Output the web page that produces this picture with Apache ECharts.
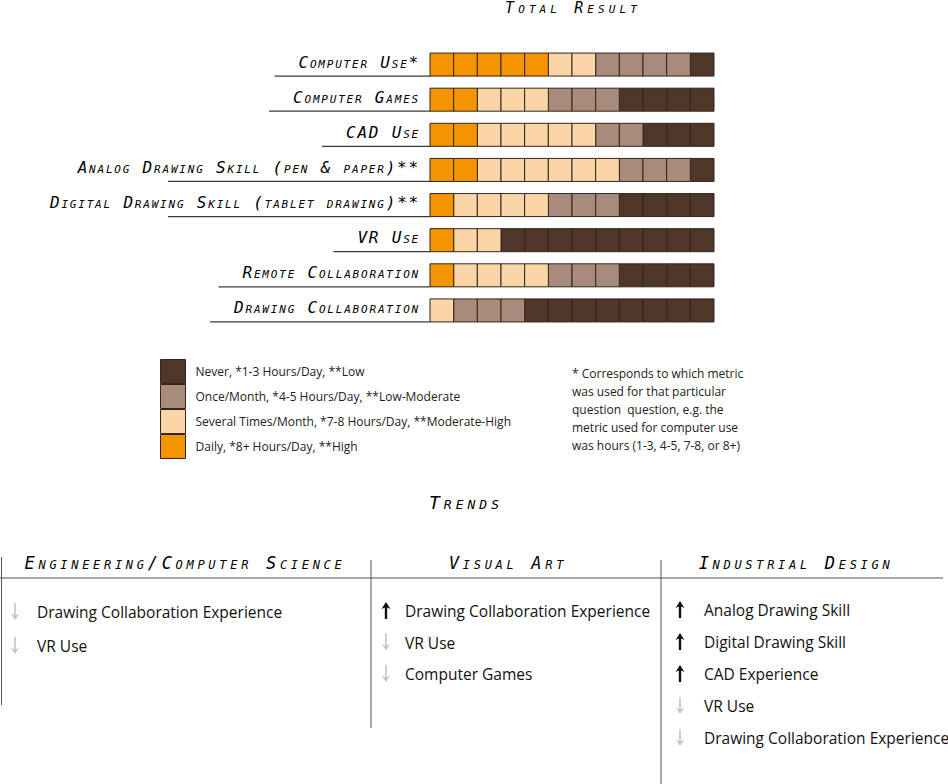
<!DOCTYPE html>
<html>
<head>
<meta charset="utf-8">
<script src="https://cdn.jsdelivr.net/npm/echarts@6/dist/echarts.min.js"></script>
<style>
html,body{margin:0;padding:0;background:#fff;}
#chart{width:948px;height:784px;}
text[style*="DejaVu Sans Mono"]{font-variant:small-caps !important;}
text[style*="15px"][style*="DejaVu Sans Mono"]{letter-spacing:4.1px;}
text[style*="16px"][style*="DejaVu Sans Mono"]{letter-spacing:1.8px;}
text[style*="17px"][style*="DejaVu Sans Mono"]{letter-spacing:3.7px;}
text[style*="18px"][style*="DejaVu Sans Mono"]{letter-spacing:4px;}
</style>
</head>
<body>
<div id="chart"></div>
<script>
// ---------- data ----------
const questions = [
  'Computer Use*',
  'Computer Games',
  'CAD Use',
  'Analog Drawing Skill (pen & paper)**',
  'Digital Drawing Skill (tablet drawing)**',
  'VR Use',
  'Remote Collaboration',
  'Drawing Collaboration'
];
const columns = ['1','2','3','4','5','6','7','8','9','10','11','12'];
const levelNames = [
  'Never, *1-3 Hours/Day, **Low',
  'Once/Month, *4-5 Hours/Day, **Low-Moderate',
  'Several Times/Month, *7-8 Hours/Day, **Moderate-High',
  'Daily, *8+ Hours/Day, **High'
];
// number of cells per row for each level
const dailyCounts   = [5, 2, 2, 2, 1, 1, 1, 0];
const severalCounts = [2, 3, 5, 6, 4, 2, 4, 1];
const onceCounts    = [4, 3, 2, 3, 3, 0, 3, 3];
const neverCounts   = [1, 4, 3, 1, 4, 9, 4, 8];
const noteLines = [
  '* Corresponds to which metric',
  'was used for that particular',
  'question  question, e.g. the',
  'metric used for computer use',
  'was hours (1-3, 4-5, 7-8, or 8+)'
];
const trendHeaders = ['Engineering/Computer Science', 'Visual Art', 'Industrial Design'];
const trendEng = [['down', 'Drawing Collaboration Experience'], ['down', 'VR Use']];
const trendArt = [['up', 'Drawing Collaboration Experience'], ['down', 'VR Use'], ['down', 'Computer Games']];
const trendInd = [['up', 'Analog Drawing Skill'], ['up', 'Digital Drawing Skill'], ['up', 'CAD Experience'], ['down', 'VR Use'], ['down', 'Drawing Collaboration Experience']];

// ---------- build cells ----------
const colors = ['#4E3628', '#A88B7B', '#FAD5A7', '#F39400'];
const orderCounts = [dailyCounts, severalCounts, onceCounts, neverCounts]; // left -> right
const orderLevel = [3, 2, 1, 0];
const cellData = [[], [], [], []];
questions.forEach((q, r) => {
  let col = 0;
  orderCounts.forEach((arr, k) => {
    for (let i = 0; i < arr[r]; i++) {
      cellData[orderLevel[k]].push([col, r]);
      col++;
    }
  });
});

const LABEL_FONT = 'DejaVu Sans Mono';
const SANS = 'Open Sans';
const labelMargin = 10;
const mctx = document.createElement('canvas').getContext('2d');
function measureLabel(t) {
  mctx.font = 'italic 16px "DejaVu Sans Mono"';
  try { mctx.fontVariantCaps = 'small-caps'; mctx.letterSpacing = '1.8px'; } catch (e) {}
  return mctx.measureText(t).width;
}
const labelWidths = questions.map(measureLabel);

const cellRatio = 0.655;
function renderCell(params, api) {
  const c = api.coord([api.value(0), api.value(1)]);
  const s = api.size([1, 1]);
  const h = s[1] * cellRatio;
  return {
    type: 'rect',
    shape: { x: c[0] - s[0] / 2, y: c[1] - h / 2, width: s[0], height: h },
    style: api.style()
  };
}
function renderUnderline(params, api) {
  const r = api.value(1);
  const c = api.coord([0, r]);
  const s = api.size([1, 1]);
  const xEnd = c[0] - s[0] / 2;
  const yB = c[1] + s[1] * cellRatio / 2;
  const textStart = xEnd - labelMargin - labelWidths[r];
  const xStart = Math.max(textStart - 24, 168);
  return {
    type: 'line',
    shape: { x1: xStart, y1: yB, x2: xEnd, y2: yB },
    style: { stroke: '#3a3a3a', lineWidth: 1.2 }
  };
}

const series = levelNames.map((name, i) => ({
  type: 'custom',
  name: name,
  renderItem: renderCell,
  data: cellData[i],
  itemStyle: { color: colors[i], borderColor: '#33251c', borderWidth: 1 },
  silent: true
}));
series.push({
  type: 'custom',
  name: 'underline',
  renderItem: renderUnderline,
  data: questions.map((q, r) => [0, r]),
  silent: true,
  z: 1
});

// ---------- trends graphics ----------
const graphics = [];
const lineStyle = { stroke: '#555', lineWidth: 1 };
graphics.push({ type: 'line', shape: { x1: 0, y1: 578, x2: 943, y2: 578 }, style: lineStyle });
graphics.push({ type: 'line', shape: { x1: 1.5, y1: 557, x2: 1.5, y2: 705 }, style: lineStyle });
graphics.push({ type: 'line', shape: { x1: 371, y1: 560, x2: 371, y2: 728 }, style: lineStyle });
graphics.push({ type: 'line', shape: { x1: 661, y1: 560, x2: 661, y2: 784 }, style: lineStyle });
const headerX = [185, 508, 796];
trendHeaders.forEach((t, i) => {
  graphics.push({
    type: 'text', x: headerX[i], y: 563,
    style: { text: t, fontFamily: LABEL_FONT, fontStyle: 'italic', fontSize: 17, fill: '#000', align: 'center', verticalAlign: 'middle' }
  });
});
function arrow(dir, x, y) {
  if (dir === 'up') {
    return {
      type: 'group', children: [
        { type: 'rect', shape: { x: x - 1.2, y: y - 4, width: 2.4, height: 12 }, style: { fill: '#111' } },
        { type: 'polygon', shape: { points: [[x - 4.5, y - 2], [x, y - 9], [x + 4.5, y - 2], [x, y - 4]] }, style: { fill: '#111' } }
      ]
    };
  }
  return {
    type: 'group', children: [
      { type: 'rect', shape: { x: x - 0.8, y: y - 9, width: 1.6, height: 14 }, style: { fill: '#c4c4c4' } },
      { type: 'polygon', shape: { points: [[x - 4.5, y + 1], [x, y + 8], [x + 4.5, y + 1], [x, y + 4]] }, style: { fill: '#c4c4c4' } }
    ]
  };
}
const trendCols = [
  { items: trendEng, ax: 15, tx: 37, y0: 612, step: 34 },
  { items: trendArt, ax: 386, tx: 405, y0: 611, step: 31.5 },
  { items: trendInd, ax: 680, tx: 704, y0: 610, step: 32 }
];
trendCols.forEach(col => {
  col.items.forEach((it, k) => {
    const y = col.y0 + col.step * k;
    graphics.push(arrow(it[0], col.ax, y));
    graphics.push({
      type: 'text', x: col.tx, y: y,
      style: { text: it[1], fontFamily: SANS, fontSize: 15.5, fill: '#111', align: 'left', verticalAlign: 'middle' }
    });
  });
});

// ---------- chart ----------
const chart = echarts.init(document.getElementById('chart'), null, { renderer: 'svg', width: 948, height: 784 });
chart.setOption({
  animation: false,
  backgroundColor: '#fff',
  title: [
    { text: 'Total Result', left: 573, top: 0, textAlign: 'center', padding: 0,
      textStyle: { fontFamily: LABEL_FONT, fontStyle: 'italic', fontWeight: 'normal', fontSize: 15, color: '#000' } },
    { text: 'Trends', left: 466, top: 493, textAlign: 'center', padding: 0,
      textStyle: { fontFamily: LABEL_FONT, fontStyle: 'italic', fontWeight: 'normal', fontSize: 18, color: '#000' } },
    { text: noteLines.join('\n'), left: 572, top: 364, padding: 0,
      textStyle: { fontFamily: SANS, fontWeight: 'normal', fontSize: 12, lineHeight: 18, color: '#222' } }
  ],
  legend: {
    orient: 'vertical', left: 160, top: 359, padding: 0,
    itemWidth: 25, itemHeight: 24, itemGap: 0, icon: 'rect',
    data: levelNames, selectedMode: false,
    itemStyle: { borderColor: '#33251c', borderWidth: 1 },
    textStyle: { fontFamily: SANS, fontSize: 12, color: '#222', padding: [0, 0, 0, 5] }
  },
  grid: { left: 430, top: 47, width: 284, height: 281, outerBoundsMode: 'none', containLabel: false },
  xAxis: { type: 'category', data: columns, show: false },
  yAxis: {
    type: 'category', data: questions, inverse: true,
    axisLine: { show: false }, axisTick: { show: false }, splitLine: { show: false },
    axisLabel: { interval: 0, margin: labelMargin, fontFamily: LABEL_FONT, fontStyle: 'italic', fontSize: 16, color: '#000', verticalAlign: 'bottom', lineHeight: 5 }
  },
  graphic: graphics,
  series: series
});
</script>
</body>
</html>
